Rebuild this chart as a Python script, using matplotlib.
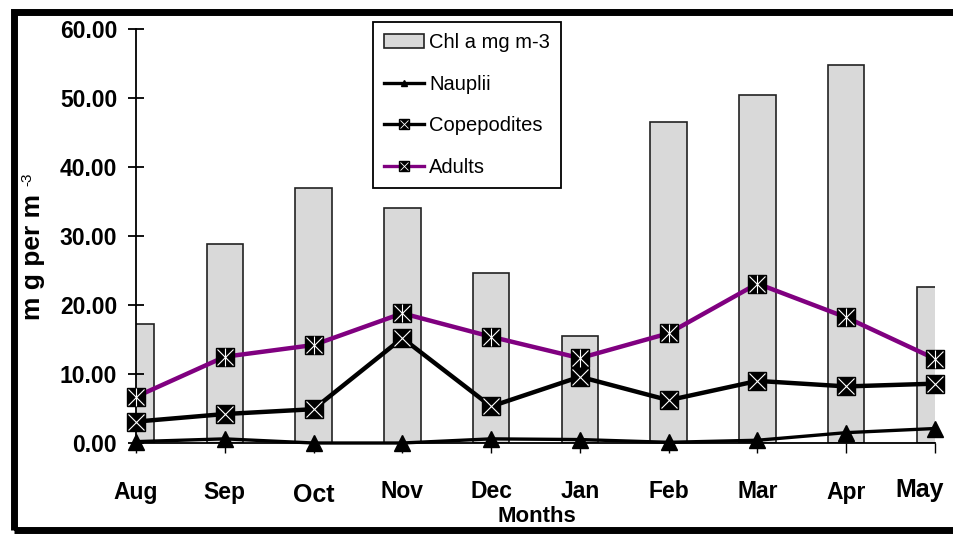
import matplotlib
matplotlib.use('Agg')
import matplotlib.pyplot as plt
import matplotlib.transforms as mtransforms
import numpy as np
from matplotlib.lines import Line2D
from matplotlib.patches import Patch, Rectangle

# data
months = ['Aug', 'Sep', 'Oct', 'Nov', 'Dec', 'Jan', 'Feb', 'Mar', 'Apr', 'May']
chl_a = [17.3, 28.9, 36.9, 34.0, 24.6, 15.5, 46.5, 50.5, 54.8, 22.6]
nauplii = [0.2, 0.6, 0.0, 0.0, 0.6, 0.5, 0.1, 0.4, 1.5, 2.1]
copepodites = [3.1, 4.2, 4.9, 15.2, 5.3, 9.6, 6.2, 9.0, 8.2, 8.6]
adults = [6.7, 12.5, 14.2, 18.8, 15.4, 12.3, 15.9, 23.1, 18.2, 12.2]

plt.rcParams['font.family'] = ['Liberation Sans', 'DejaVu Sans']

purple = '#800080'
x = np.arange(len(months))

fig = plt.figure(figsize=(9.54, 5.34), dpi=100)
W, H = 954, 534
ax = fig.add_axes([136 / W, (H - 443) / H, (935 - 136) / W, (443 - 29) / H])

# bars (Chl a)
ax.bar(x, chl_a, width=0.41, color='#d9d9d9', edgecolor='#222222', linewidth=1.2, zorder=1)

# Nauplii
ax.plot(x, nauplii, color='black', lw=2.4, marker='^', ms=11, mfc='black', mec='black',
        clip_on=False, zorder=3)
# Copepodites
ax.plot(x, copepodites, color='black', lw=3.2, marker='s', ms=13.5, mfc='black', mec='black',
        clip_on=False, zorder=4)
ax.plot(x, copepodites, ls='none', marker='x', ms=11.5, mec='white', mew=0.8, clip_on=False, zorder=5)
# Adults
ax.plot(x, adults, color=purple, lw=3.2, marker='s', ms=13.5, mfc='black', mec='black',
        clip_on=False, zorder=6)
ax.plot(x, adults, ls='none', marker='x', ms=11.5, mec='white', mew=0.8, clip_on=False, zorder=7)
ax.plot(x, adults, ls='none', marker='|', ms=13.5, mec='white', mew=0.8, clip_on=False, zorder=7)

ax.set_xlim(0, 9)
ax.set_ylim(0, 60)
ax.set_yticks(np.arange(0, 61, 10))
ax.set_yticklabels([f'{v:.2f}' for v in np.arange(0, 61, 10)])
ax.set_xticks(x)
ax.set_xticklabels(months)

for s in ['top', 'right']:
    ax.spines[s].set_visible(False)
ax.spines['left'].set_linewidth(1.3)
ax.spines['bottom'].set_linewidth(1.3)

ax.tick_params(axis='y', direction='inout', length=11, width=1.3, pad=8, labelsize=16.5)
ax.tick_params(axis='x', direction='out', length=7, width=1.0, pad=20, labelsize=16.5)
for lab in ax.get_yticklabels() + ax.get_xticklabels():
    lab.set_fontweight('bold')

# Oct and May are set a bit larger and offset in the reference
xl = ax.get_xticklabels()
xl[2].set_fontsize(18)
xl[2].set_transform(xl[2].get_transform() + mtransforms.ScaledTranslation(0, -2 / 100, fig.dpi_scale_trans))
xl[9].set_fontsize(18)
xl[9].set_transform(xl[9].get_transform() + mtransforms.ScaledTranslation(-15 / 100, 3 / 100, fig.dpi_scale_trans))

# y label with a small superscript
fig.text(33 / W, (H - 257) / H, 'm g per m', rotation=90, ha='center', va='center',
         fontsize=19, fontweight='bold')
fig.text(27 / W, (H - 179) / H, '-3', rotation=90, ha='center', va='center', fontsize=11)
fig.text(537 / W, (H - 516) / H, 'Months', ha='center', va='center', fontsize=16, fontweight='bold')

# legend
h_chl = Patch(facecolor='#d9d9d9', edgecolor='#222222', linewidth=1.2)
h_nau = Line2D([], [], color='black', lw=2.4, marker='^', ms=5, mfc='black')
h_cop = (Line2D([], [], color='black', lw=2.4, marker='s', ms=7, mfc='black', mec='black'),
         Line2D([], [], ls='none', marker='x', ms=6, mec='white', mew=0.6))
h_adu = (Line2D([], [], color=purple, lw=2.4, marker='s', ms=7, mfc='black', mec='black'),
         Line2D([], [], ls='none', marker='x', ms=6, mec='white', mew=0.6))
leg = ax.legend([h_chl, h_nau, h_cop, h_adu], ['Chl a mg m-3', 'Nauplii', 'Copepodites', 'Adults'],
                loc='upper left', bbox_to_anchor=((373 - 136) / 799, (443 - 22) / 414),
                borderaxespad=0, frameon=True, fancybox=False, framealpha=1,
                edgecolor='black', prop={'size': 14.5},
                handlelength=2.0, handletextpad=0.25, labelspacing=1.12, borderpad=0.55)
leg.get_frame().set_linewidth(1.3)

# outer black frame
fig.add_artist(Rectangle((14.5 / W, 4 / H), 1.05, (H - 12 - 4) / H, transform=fig.transFigure,
                         fill=False, edgecolor='black', linewidth=5, clip_on=False))

fig.savefig('out.png', dpi=100)
